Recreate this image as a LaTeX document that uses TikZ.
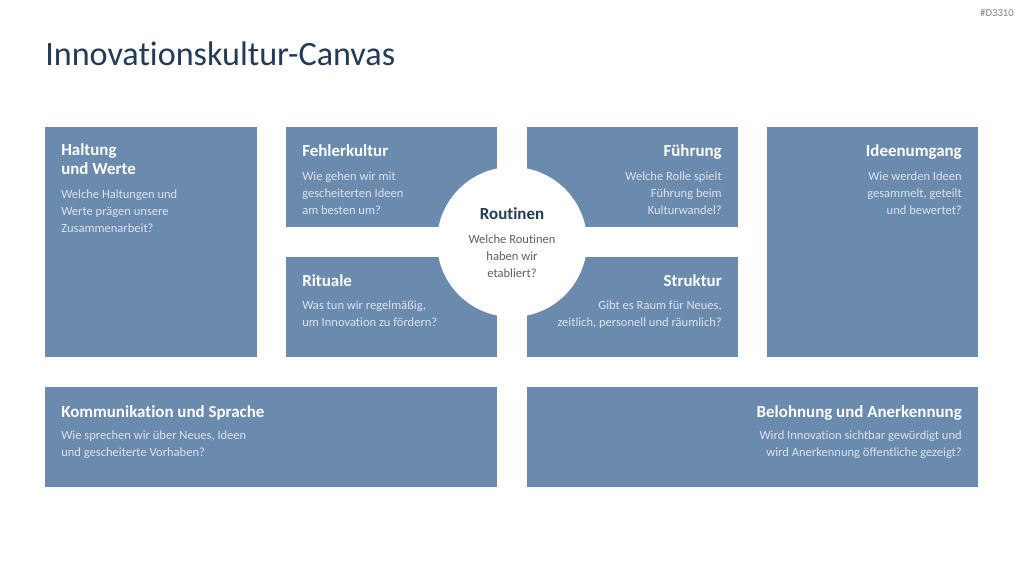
\documentclass[tikz,border=0pt]{standalone}
\usepackage{fontspec}
\setmainfont{Carlito}[Ligatures=NoCommon]
\usetikzlibrary{fit}
\definecolor{boxblue}{RGB}{106,138,174}
\definecolor{navy}{RGB}{36,59,85}
\definecolor{paletxt}{RGB}{220,228,238}
\definecolor{midgray}{RGB}{95,95,95}
\definecolor{taggray}{RGB}{128,128,128}
\begin{document}
\begin{tikzpicture}[x=0.75pt,y=-0.75pt,
  panel/.style={fill=boxblue, draw=none, inner sep=0pt},
  ptitle/.style={font=\fontsize{12.7}{14.25}\selectfont\bfseries, text=white, inner sep=0pt},
  pbody/.style={font=\fontsize{9.4}{12.75}\selectfont, text=paletxt, inner sep=0pt},
  lt/.style={anchor=base west, align=left},
  rt/.style={anchor=base east, align=right}]
\useasboundingbox[fill=white] (0,0) rectangle (1024,576);
% header
\node[anchor=base west, inner sep=0pt, text=navy, font=\fontsize{25.6}{30}\selectfont] (title) at (45,65) {Innovationskultur-Canvas};
\node[anchor=base east, inner sep=0pt, text=taggray, font=\fontsize{8}{10}\selectfont] (tag) at (1014,16) {\#D3310};
% panels
\node[panel, fit={(45,127)(257,357)}] (haltung) {};
\node[panel, fit={(286,127)(497,227)}] (fehler) {};
\node[panel, fit={(286,257)(497,357)}] (rituale) {};
\node[panel, fit={(527,127)(738,227)}] (fuehrung) {};
\node[panel, fit={(527,257)(738,357)}] (struktur) {};
\node[panel, fit={(767,127)(978,357)}] (ideen) {};
\node[panel, fit={(45,387)(497,487)}] (komm) {};
\node[panel, fit={(527,387)(978,487)}] (belohn) {};
\node[circle, fill=white, inner sep=0pt, minimum size=112.5pt] (routinen) at (512,242) {};
% texts (anchor = baseline of the last line)
\node[ptitle, lt] (t1) at (61,174) {Haltung\\und Werte};
\node[pbody, lt] (b1) at (61,232) {Welche Haltungen und\\Werte prägen unsere\\Zusammenarbeit?};
\node[ptitle, lt] (t2) at (302,156) {Fehlerkultur};
\node[pbody, lt] (b2) at (302,214) {Wie gehen wir mit\\gescheiterten Ideen\\am besten um?};
\node[ptitle, lt] (t3) at (302,286) {Rituale};
\node[pbody, lt] (b3) at (302,326) {Was tun wir regelmäßig,\\um Innovation zu fördern?};
\node[ptitle, rt] (t4) at (722,156) {Führung};
\node[pbody, rt] (b4) at (722,214) {Welche Rolle spielt\\Führung beim\\Kulturwandel?};
\node[ptitle, rt] (t5) at (722,286) {Struktur};
\node[pbody, rt] (b5) at (722,326) {Gibt es Raum für Neues,\\zeitlich, personell und räumlich?};
\node[ptitle, rt] (t6) at (962,156) {Ideenumgang};
\node[pbody, rt] (b6) at (962,214) {Wie werden Ideen\\gesammelt, geteilt\\und bewertet?};
\node[ptitle, lt] (t7) at (61,417) {Kommunikation und Sprache};
\node[pbody, lt] (b7) at (61,456) {Wie sprechen wir über Neues, Ideen\\und gescheiterte Vorhaben?};
\node[ptitle, rt] (t8) at (962,417) {Belohnung und Anerkennung};
\node[pbody, rt] (b8) at (962,456) {Wird Innovation sichtbar gewürdigt und\\wird Anerkennung öffentliche gezeigt?};
\node[ptitle, anchor=base, text=navy] (t9) at (512,219) {Routinen};
\node[pbody, anchor=base, align=center, text=midgray] (b9) at (512,277) {Welche Routinen\\haben wir\\etabliert?};
\end{tikzpicture}
\end{document}
